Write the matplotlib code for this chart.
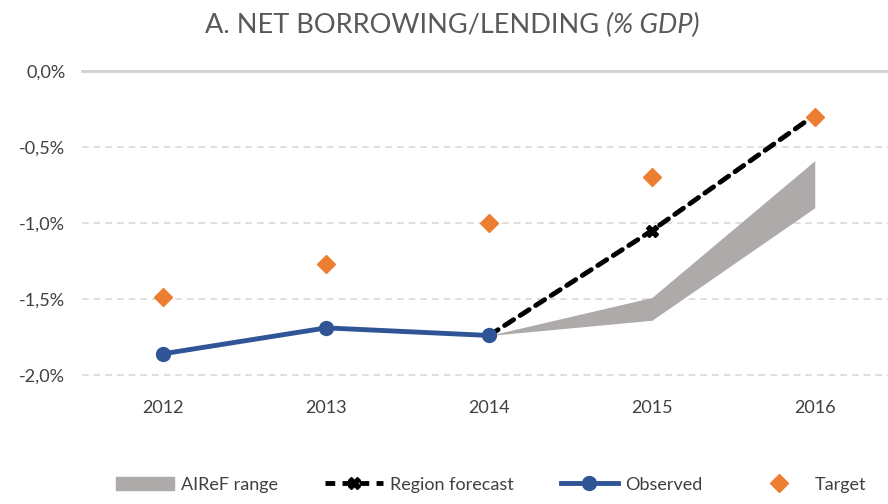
import matplotlib
matplotlib.use("Agg")
import matplotlib.pyplot as plt
from matplotlib.patches import Patch
from matplotlib.lines import Line2D
from matplotlib.ticker import FuncFormatter

# data (% GDP)
years = ["2012", "2013", "2014", "2015", "2016"]
observed = [-1.86, -1.69, -1.74]
target = [-1.49, -1.27, -1.00, -0.70, -0.30]
forecast = [-1.74, -1.05, -0.29]
range_low = [-1.74, -1.64, -0.90]
range_high = [-1.74, -1.49, -0.59]

plt.rcParams["font.family"] = ["Lato", "DejaVu Sans"]
TXT = "#404040"

fig = plt.figure(figsize=(8.88, 5.04), dpi=100)
ax = fig.add_axes([82 / 888, 1 - 375 / 504, 806 / 888, 304 / 504])

x = list(range(len(years)))
xf = x[2:]

ax.fill_between(xf, range_low, range_high, color="#AEAAAA", lw=0, zorder=2)
ax.plot(xf, forecast, color="black", lw=3.5, ls=(0, (2.2, 1.6)), dash_capstyle="round",
        marker="X", ms=9, markevery=[1], zorder=3)
ax.plot(x[:3], observed, color="#2F5597", lw=3.5, marker="o", ms=10, zorder=4)
ax.plot(x, target, ls="none", marker="D", ms=9, color="#ED7D31", zorder=5)

ax.set_xlim(-0.5, 4.45)
ax.set_ylim(-2.0, 0.0)
ax.set_yticks([0.0, -0.5, -1.0, -1.5, -2.0])
ax.yaxis.set_major_formatter(FuncFormatter(lambda v, p: f"{v:.1f}%".replace(".", ",")))
ax.set_xticks(x)
ax.set_xticklabels(years)
ax.tick_params(length=0, labelsize=13, colors=TXT, pad=12)
ax.tick_params(axis="x", pad=18)
for s in ax.spines.values():
    s.set_visible(False)
for v in [-0.5, -1.0, -1.5, -2.0]:
    ax.axhline(v, color="#D9D9D9", lw=1.2, ls=(0, (4, 3)), zorder=1)
ax.axhline(0.0, color="#D0D0D0", lw=2, zorder=1, clip_on=False)
for ln in ax.lines:
    ln.set_clip_on(False)

# title in two parts, centred as a whole
t1 = fig.text(0, 0.95, "A. NET BORROWING/LENDING ", ha="left", va="center",
              fontsize=19.5, color="#595959")
t2 = fig.text(0, 0.95, "(% GDP)", ha="left", va="center", fontsize=19.5,
              color="#595959", style="italic")
r = fig.canvas.get_renderer()
w1 = t1.get_window_extent(r).width / fig.bbox.width
w2 = t2.get_window_extent(r).width / fig.bbox.width
x0 = 452 / 888 - (w1 + w2) / 2
t1.set_x(x0)
t2.set_x(x0 + w1)

handles = [
    Patch(color="#AEAAAA"),
    Line2D([], [], color="black", lw=3.5, ls=(0, (2, 1.5)), marker="X", ms=9),
    Line2D([], [], color="#2F5597", lw=3.5, marker="o", ms=10),
    Line2D([], [], ls="none", marker="D", ms=9, color="#ED7D31"),
]
labels = ["AIReF range", "Region forecast", "Observed", "Target"]
fig.legend(handles, labels, loc="lower center", bbox_to_anchor=(0.553, -0.01), ncol=4,
           frameon=False, fontsize=13, labelcolor=TXT, columnspacing=2.6,
           handlelength=3.2, handletextpad=0.4)

fig.savefig("out.png", dpi=100)
